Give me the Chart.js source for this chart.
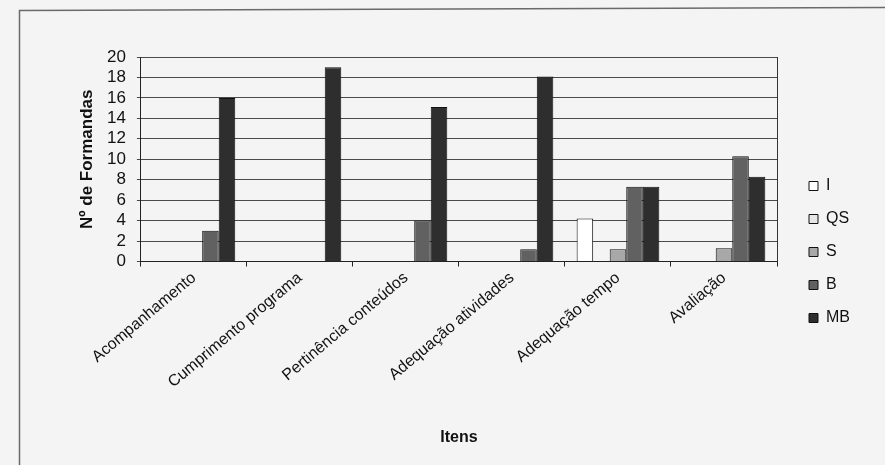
<!DOCTYPE html>
<html>
<head>
<meta charset="utf-8">
<script src="https://cdn.jsdelivr.net/npm/chart.js@4.4.0/dist/chart.umd.min.js"></script>
<style>
  html, body { margin: 0; padding: 0; background: #f4f4f4; }
  #wrap { width: 885px; height: 465px; }
</style>
</head>
<body>
<div id="wrap"><canvas id="chart" width="885" height="465"></canvas></div>
<script>
const itens = ['Acompanhamento', 'Cumprimento programa', 'Pertinência conteúdos',
               'Adequação atividades', 'Adequação tempo', 'Avaliação'];

// numero de formandas por item e por resposta
const valI  = [0, 0, 0, 0, 4.2, 0];
const valQS = [0, 0, 0, 0, 0, 0];
const valS  = [0, 0, 0, 0, 1.2, 1.3];
const valB  = [3, 0, 4, 1.2, 7.3, 10.3];
const valMB = [16, 19, 15.1, 18.1, 7.3, 8.3];

const yTicks = [0, 2, 4, 6, 8, 10, 12, 14, 16, 18, 20];

const font = 'Liberation Sans, Arial, sans-serif';

// moldura da folha digitalizada
const frame = {
    id: 'frame',
    beforeDraw(chart) {
        const ctx = chart.ctx;
        ctx.save();
        ctx.fillStyle = '#f4f4f4';
        ctx.fillRect(0, 0, chart.width, chart.height);
        ctx.strokeStyle = '#6a6a6a';
        ctx.lineWidth = 1.5;
        ctx.beginPath();
        ctx.moveTo(19.5, chart.height);
        ctx.lineTo(19.5, 10.5);
        ctx.lineTo(chart.width, 7.5);
        ctx.stroke();
        ctx.restore();
    }
};

const mk = (label, data, color) => ({
    label: label,
    data: data,
    backgroundColor: color,
    borderColor: '#111',
    borderWidth: 1,
    borderSkipped: 'bottom',
    categoryPercentage: 0.78,
    barPercentage: 1.0
});

new Chart(document.getElementById('chart'), {
    type: 'bar',
    data: {
        labels: itens,
        datasets: [
            mk('I', valI, '#ffffff'),
            mk('QS', valQS, '#e6e6e6'),
            mk('S', valS, '#a8a8a8'),
            mk('B', valB, '#616161'),
            mk('MB', valMB, '#2e2e2e')
        ]
    },
    options: {
        responsive: false,
        animation: false,
        layout: { padding: { left: 79, top: 57, right: 25, bottom: 18 } },
        plugins: {
            tooltip: { enabled: false },
            legend: {
                position: 'right',
                align: 'center',
                labels: {
                    color: '#111',
                    font: { family: font, size: 16 },
                    boxWidth: 9,
                    boxHeight: 9,
                    padding: 17,
                    useBorderRadius: false
                }
            }
        },
        scales: {
            x: {
                offset: true,
                grid: { display: true, drawOnChartArea: false, color: '#222', tickLength: 5, offset: true },
                border: { display: true, color: '#222', width: 1 },
                ticks: {
                    color: '#111',
                    font: { family: font, size: 16 },
                    maxRotation: 40,
                    minRotation: 40,
                    padding: 2
                },
                title: {
                    display: true,
                    text: 'Itens',
                    color: '#111',
                    font: { family: font, size: 16, weight: 'bold' },
                    padding: { top: 34, bottom: 0 }
                }
            },
            y: {
                min: 0,
                max: 20,
                afterBuildTicks: (scale) => { scale.ticks = yTicks.map(v => ({ value: v })); },
                grid: { color: '#4a4a4a', lineWidth: 1, tickLength: 4 },
                border: { display: true, color: '#222', width: 1 },
                ticks: {
                    color: '#111',
                    font: { family: font, size: 17 },
                    padding: 11,
                    autoSkip: false
                },
                title: {
                    display: true,
                    text: 'Nº de Formandas',
                    color: '#111',
                    font: { family: font, size: 17, weight: 'bold', lineHeight: 1 },
                    padding: { top: 0, bottom: 0 }
                }
            },
            // eixo vazio a direita: so a borda da area do grafico e o espaco ate a legenda
            yR: {
                position: 'right',
                min: 0,
                max: 20,
                grid: { display: false },
                ticks: { display: false },
                border: { display: true, color: '#333', width: 1 },
                afterFit: (scale) => { scale.width = 15; }
            }
        }
    },
    plugins: [frame]
});
</script>
</body>
</html>
